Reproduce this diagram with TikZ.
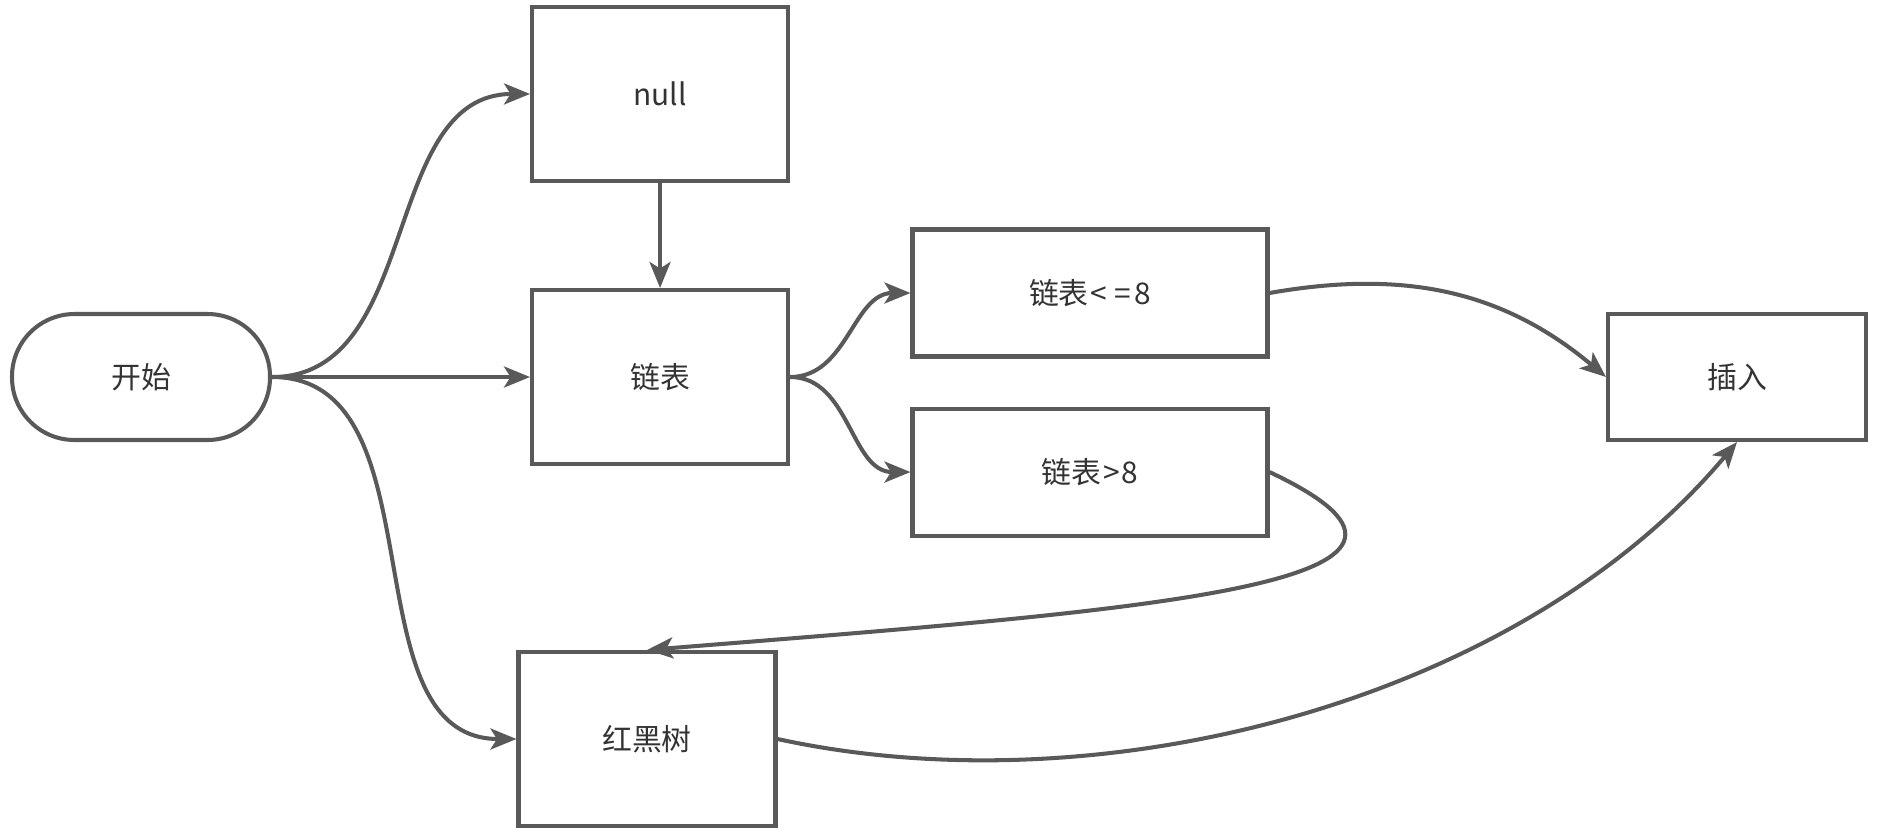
\documentclass[tikz,border=0pt]{standalone}
\usepackage{fontspec}
\setmainfont{Noto Sans CJK SC}
\usepackage{tikz}
\usetikzlibrary{arrows.meta,positioning}
\definecolor{flowline}{HTML}{595959}
\definecolor{flowtext}{HTML}{333333}

\begin{document}
\begin{tikzpicture}[
    font=\fontsize{17}{20}\selectfont,
    box/.style={draw=flowline,fill=white,line width=2.3pt,minimum width=#1,minimum height=3.48cm,text=flowtext,inner sep=0pt},
    wide/.style={draw=flowline,fill=white,line width=2.3pt,minimum width=7.1cm,minimum height=2.54cm,text=flowtext,inner sep=0pt},
    term/.style={draw=flowline,fill=white,line width=2.3pt,minimum width=5.16cm,minimum height=2.52cm,text=flowtext,inner sep=0pt},
    arr/.style={-{Stealth[length=5.2mm,width=4.2mm,inset=1.3mm]},line width=2.3pt,draw=flowline}
  ]
    \useasboundingbox (0,0) rectangle (37.62,-16.62);

    \node[term,rounded corners=1.25cm] (start) at (2.82,-7.54) {开始};
    \node[box=5.12cm,right=5.16cm of start] (list) {链表};
    \node[box=5.12cm,above=2.1cm of list] (null) {null};
    \node[wide] (le8) at (21.8,-5.86) {链表\kern1pt<\kern4pt=\kern2pt8};
    \node[wide,below=0.96cm of le8] (gt8) {链表\kern1pt>\kern1pt8};
    \node[term] (insert) at (34.74,-7.54) {插入};
    \node[box=5.14cm] (rbt) at (12.94,-14.78) {红黑树};

    \draw[arr] (start.east) to[out=0,in=180] (null.west);
    \draw[arr] (start.east) -- (list.west);
    \draw[arr] (start.east) to[out=0,in=180] (rbt.west);
    \draw[arr] (null.south) -- (list.north);
    \draw[arr] (list.east) to[out=0,in=180] (le8.west);
    \draw[arr] (list.east) to[out=0,in=180] (gt8.west);
    \draw[arr] (le8.east) to[out=10,in=140] (insert.west);
    \draw[arr] (gt8.east) .. controls +(-25.2:5.3cm) and +(4.6:10cm) .. (rbt.north);
    \draw[arr] (rbt.east) .. controls +(-12.3:6.65cm) and +(230:6.77cm) .. (insert.south);
\end{tikzpicture}
\end{document}
